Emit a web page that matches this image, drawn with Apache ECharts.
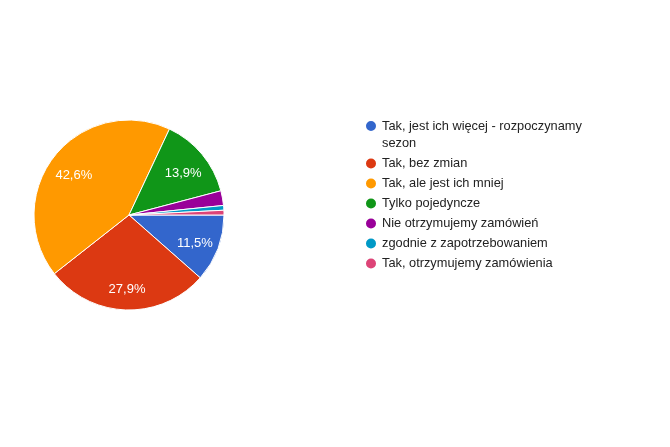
<!DOCTYPE html>
<html>
<head>
<meta charset="utf-8">
<script src="https://cdn.jsdelivr.net/npm/echarts@6/dist/echarts.min.js"></script>
<style>
  html, body { margin: 0; padding: 0; background: #fff; }
  #chart { width: 670px; height: 447px; }
</style>
</head>
<body>
<div id="chart"></div>
<script>
// odpowiedzi i udzial procentowy
var categories = [
  'Tak, jest ich więcej - rozpoczynamy sezon',
  'Tak, bez zmian',
  'Tak, ale jest ich mniej',
  'Tylko pojedyncze',
  'Nie otrzymujemy zamówień',
  'zgodnie z zapotrzebowaniem',
  'Tak, otrzymujemy zamówienia'
];
var shares = [11.5, 27.9, 42.6, 13.9, 2.5, 0.8, 0.8];
var colors = ['#3366cc', '#dc3912', '#ff9900', '#109618', '#990099', '#0099c6', '#dd4477'];

var chart = echarts.init(document.getElementById('chart'));

var pieData = categories.map(function (name, i) {
  return { name: name, value: shares[i] };
});

function pct(p) {
  // pokazuj etykiete tylko dla wiekszych wycinkow
  if (p.value < 5) return '';
  return p.value.toFixed(1).replace('.', ',') + '%';
}

var font = 'Liberation Sans, Arial, sans-serif';
var legendText = {
  fontFamily: font,
  fontSize: 12.8,
  lineHeight: 17,
  color: '#222'
};

chart.setOption({
  backgroundColor: '#fff',
  color: colors,
  animation: false,
  legend: [
    {
      // pierwsza pozycja na dwie linie, ikona przy pierwszej linii
      // (pusta linia u gory przesuwa tekst w dol)
      orient: 'vertical',
      left: 359,
      top: 95.5,
      icon: 'circle',
      itemWidth: 12,
      itemHeight: 12,
      data: categories.slice(0, 1),
      formatter: function (name) {
        var i = name.lastIndexOf(' ');
        return '{e| }\n{a|' + name.slice(0, i) + '}\n{a|' + name.slice(i + 1) + '}';
      },
      textStyle: Object.assign({}, legendText, {
        rich: {
          a: legendText,
          e: { fontSize: 12.8, lineHeight: 17 }
        }
      })
    },
    {
      orient: 'vertical',
      left: 359,
      top: 150,
      icon: 'circle',
      itemWidth: 12,
      itemHeight: 12,
      itemGap: 3,
      data: categories.slice(1),
      textStyle: legendText
    }
  ],
  series: [
    {
      name: 'odpowiedzi',
      type: 'pie',
      center: [129, 215],
      radius: [0, 95],
      startAngle: 0,
      clockwise: true,
      silent: true,
      itemStyle: { borderColor: '#fff', borderWidth: 1 },
      label: { show: false },
      labelLine: { show: false },
      data: pieData
    },
    {
      // niewidoczna kopia tylko dla polozenia etykiet
      name: 'etykiety',
      type: 'pie',
      center: [129, 215],
      radius: [40, 95],
      startAngle: 0,
      clockwise: true,
      silent: true,
      legendHoverLink: false,
      itemStyle: { color: 'rgba(0,0,0,0)', borderWidth: 0 },
      label: {
        show: true,
        position: 'inside',
        formatter: pct,
        color: '#fff',
        fontFamily: font,
        fontSize: 13
      },
      labelLayout: { dy: 4 },
      labelLine: { show: false },
      data: pieData.map(function (d) { return { name: d.name + ' ', value: d.value }; })
    }
  ]
});
</script>
</body>
</html>
